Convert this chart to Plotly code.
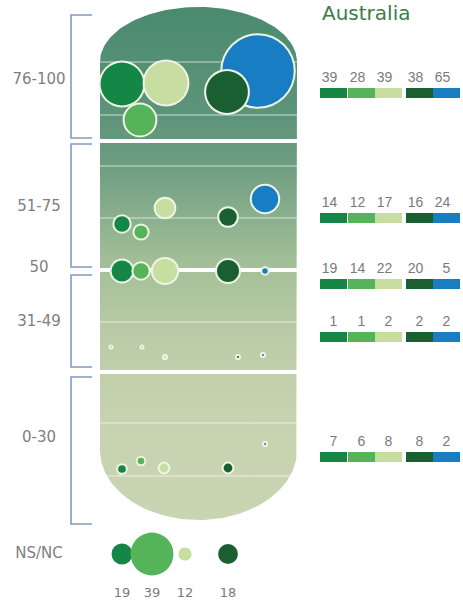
import numpy as np
import plotly.graph_objects as go

# ---- data -------------------------------------------------------------
band_labels = ["76-100", "51-75", "50", "31-49", "0-30"]
nsnc_label = "NS/NC"
title_text = "Australia"

group_colors = ["#148746", "#55b45a", "#c8dea0", "#195f32", "#197dc3"]

vals_76_100 = [39, 28, 39, 38, 65]
vals_51_75 = [14, 12, 17, 16, 24]
vals_50 = [19, 14, 22, 20, 5]
vals_31_49 = [1, 1, 2, 2, 2]
vals_0_30 = [7, 6, 8, 8, 2]
vals_nsnc = [19, 39, 12, 18]

band_values = [vals_76_100, vals_51_75, vals_50, vals_31_49, vals_0_30]

# ---- layout (pixel space, y grows downward) ---------------------------
W, H = 463, 605
PX_PER_UNIT = 1.1  # bubble diameter per unit of value
RIM = 2            # light rim drawn round each bubble
RIM_COLOR = "#eef4e4"

bubble_x = [
    [122, 140, 166, 227, 258],
    [122, 141, 165, 228, 265],
    [122, 141, 165, 228, 265],
    [111, 142, 165, 238, 263],
    [122, 141, 164, 228, 265],
]
bubble_y = [
    [84, 120, 83, 92, 71],
    [224, 232, 208, 217, 199],
    [271, 271, 271, 271, 271],
    [347, 347, 357, 357, 355],
    [469, 461, 468, 468, 444],
]
draw_order = [0, 1, 2, 4, 3]

nsnc_x = [122, 152, 185, 228]
nsnc_y = 554
nsnc_num_y = 594

label_x = 39
label_y = [80, 207, 268, 322, 438]
nsnc_label_y = 554

key_rows_y = [93, 218, 284, 337, 457]
key_left = [320, 348, 375, 406, 433]
key_width = 27
key_height = 10

brackets = [(15, 138), (144, 267), (275, 367), (377, 524)]
bracket_x, bracket_tick = 71, 92

# capsule body
cap_l, cap_r = 100, 297
cap_cx = (cap_l + cap_r) / 2
cap_rx = (cap_r - cap_l) / 2
top_cy, top_ry = 62, 55
bot_cy, bot_ry = 450, 70

t = np.linspace(np.pi, 0, 80)
top_x = cap_cx + cap_rx * np.cos(t)
top_y = top_cy - top_ry * np.sin(t)
b = np.linspace(0, np.pi, 80)
bot_x = cap_cx + cap_rx * np.cos(b)
bot_y = bot_cy + bot_ry * np.sin(b)
cap_x = np.concatenate([top_x, bot_x, [top_x[0]]])
cap_y = np.concatenate([top_y, bot_y, [top_y[0]]])

thin_lines = [62, 115, 166, 218, 322, 423, 476]
thick_lines = [141, 270, 372]


def capsule_span(y):
    if y > bot_cy:
        dx = cap_rx * np.sqrt(max(0.0, 1 - ((y - bot_cy) / bot_ry) ** 2))
        return cap_cx - dx, cap_cx + dx
    return cap_l, cap_r


fig = go.Figure()

fig.add_trace(go.Scatter(
    x=cap_x, y=cap_y, mode="lines", fill="toself",
    line=dict(width=0, color="rgba(0,0,0,0)"),
    fillgradient=dict(
        type="vertical", start=top_cy - top_ry, stop=bot_cy + bot_ry,
        colorscale=[
            [0.0, "#4a8a6e"], [0.22, "#5e957a"], [0.3, "#6c9c80"],
            [0.5, "#a3bf98"], [0.65, "#bccca8"], [0.8, "#c6d2b0"],
            [1.0, "#c9d4b3"],
        ],
    ),
    hoverinfo="skip", showlegend=False,
))

for y in thin_lines:
    x0, x1 = capsule_span(y)
    fig.add_trace(go.Scatter(
        x=[x0, x1], y=[y, y], mode="lines",
        line=dict(color="rgba(255,255,255,0.45)", width=1.5),
        hoverinfo="skip", showlegend=False,
    ))
for y in thick_lines:
    x0, x1 = capsule_span(y)
    fig.add_trace(go.Scatter(
        x=[x0, x1], y=[y, y], mode="lines",
        line=dict(color="#ffffff", width=4),
        hoverinfo="skip", showlegend=False,
    ))

# bubbles for each band: diameter follows the value; each bubble is a
# rim disc with the coloured disc on top, drawn one after another so the
# later rims sit over earlier bubbles
for vals, xs, ys in zip(band_values, bubble_x, bubble_y):
    for i in draw_order:
        d = vals[i] * PX_PER_UNIT
        fig.add_trace(go.Scatter(
            x=[xs[i], xs[i]], y=[ys[i], ys[i]], mode="markers",
            marker=dict(size=[d + 2 * RIM, d],
                        color=[RIM_COLOR, group_colors[i]],
                        line=dict(width=0), opacity=1),
            hoverinfo="skip", showlegend=False,
        ))

# NS/NC bubbles and their values
fig.add_trace(go.Scatter(
    x=nsnc_x, y=[nsnc_y] * len(vals_nsnc), mode="markers",
    marker=dict(size=[v * PX_PER_UNIT for v in vals_nsnc],
                color=group_colors[:4], line=dict(width=0), opacity=1),
    hoverinfo="skip", showlegend=False,
))
fig.add_trace(go.Scatter(
    x=nsnc_x, y=[nsnc_num_y] * len(vals_nsnc), mode="text",
    text=[str(v) for v in vals_nsnc],
    textfont=dict(family="DejaVu Sans", size=13, color="#7a7a7a"),
    hoverinfo="skip", showlegend=False,
))

# band labels
fig.add_trace(go.Scatter(
    x=[label_x] * (len(band_labels) + 1), y=label_y + [nsnc_label_y],
    mode="text", text=band_labels + [nsnc_label],
    textfont=dict(family="DejaVu Sans", size=15, color="#7f7f7f"),
    hoverinfo="skip", showlegend=False,
))

shapes = []
# brackets
for y0, y1 in brackets:
    shapes.append(dict(
        type="path", xref="x", yref="y",
        path=f"M {bracket_tick},{y0} L {bracket_x},{y0} L {bracket_x},{y1} L {bracket_tick},{y1}",
        line=dict(color="#7f9cc3", width=1.6),
    ))

# colour keys with values above
for vals, yc in zip(band_values, key_rows_y):
    for i, xl in enumerate(key_left):
        shapes.append(dict(
            type="rect", xref="x", yref="y", x0=xl, x1=xl + key_width,
            y0=yc - key_height / 2, y1=yc + key_height / 2,
            fillcolor=group_colors[i], line=dict(width=0), layer="above",
        ))
    fig.add_trace(go.Scatter(
        x=[xl + key_width / 2 - (4 if v >= 10 else 0) for xl, v in zip(key_left, vals)],
        y=[yc - 15] * len(vals), mode="text",
        text=[str(v) for v in vals],
        textfont=dict(family="Liberation Sans", size=14, color="#7a7a7a"),
        hoverinfo="skip", showlegend=False,
    ))

fig.add_annotation(
    x=320, y=13, xref="x", yref="y", text=title_text, showarrow=False,
    xanchor="left", yanchor="middle",
    font=dict(family="DejaVu Sans", size=20, color="#3b7d47"),
)

fig.update_layout(
    width=W, height=H, margin=dict(l=0, r=0, t=0, b=0),
    paper_bgcolor="white", plot_bgcolor="white",
    shapes=shapes, showlegend=False,
    xaxis=dict(range=[0, W], visible=False, fixedrange=True),
    yaxis=dict(range=[H, 0], visible=False, fixedrange=True),
)

fig.write_html("out.html")
